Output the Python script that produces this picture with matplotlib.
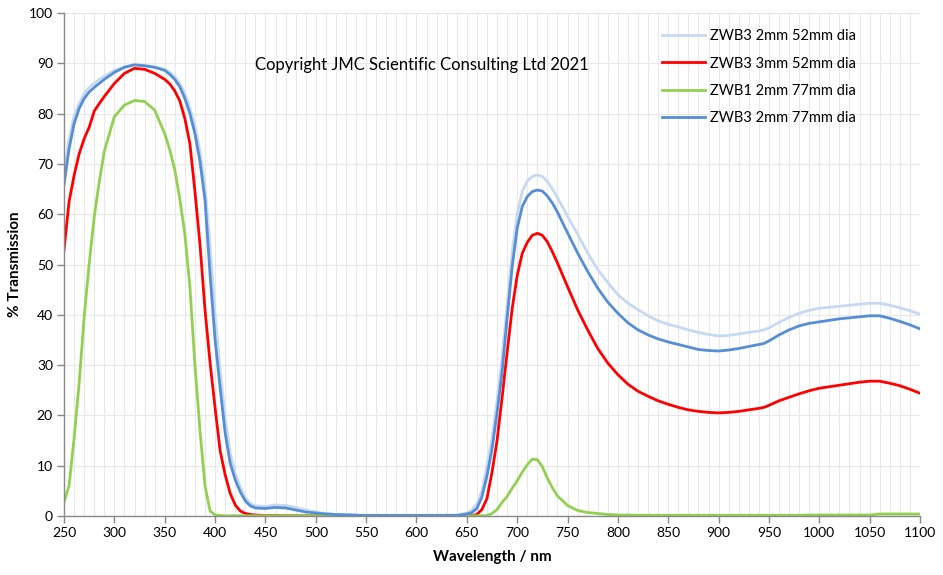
import matplotlib
matplotlib.use("Agg")
import matplotlib.pyplot as plt
from matplotlib.ticker import MultipleLocator

# wavelength grid (nm) the curves were read at
wl = [250, 255, 260, 265, 270, 275, 280, 285, 290, 300,
      310, 320, 330, 340, 350, 355, 360, 365, 370, 375,
      380, 385, 390, 395, 400, 405, 410, 415, 420, 425,
      430, 435, 440, 450, 460, 470, 480, 490, 500, 510,
      520, 550, 600, 640, 650, 655, 660, 665, 670, 675,
      680, 685, 690, 695, 700, 705, 710, 715, 720, 725,
      730, 735, 740, 750, 760, 770, 780, 790, 800, 810,
      820, 830, 840, 850, 860, 870, 880, 890, 900, 910,
      920, 930, 940, 945, 950, 960, 970, 980, 990, 1000,
      1010, 1020, 1030, 1040, 1050, 1060, 1070, 1080, 1090, 1100]

zwb3_2mm_52 = [68, 75, 79.5, 82, 84, 85.2, 86, 86.8, 87.4, 88.6,
               89.3, 89.7, 89.6, 89.3, 88.8, 88.2, 87.3, 86, 84, 81.2,
               77.5, 72.5, 65.5, 54, 40, 29, 19.5, 12.5, 8.5, 5.8,
               3.6, 2.5, 2.0, 1.9, 2.2, 2.1, 1.7, 1.2, 0.8, 0.5,
               0.3, 0.1, 0.1, 0.2, 0.6, 1.2, 2.4, 5, 10, 15.5,
               23, 31.5, 42, 52.5, 60, 64.5, 66.6, 67.5, 67.8, 67.5,
               66.5, 65, 63.3, 59.6, 56, 52.3, 49, 46.4, 44, 42.3,
               41, 39.8, 38.8, 38.1, 37.6, 37, 36.5, 36.1, 35.8, 35.9,
               36.2, 36.5, 36.8, 37, 37.4, 38.5, 39.5, 40.3, 40.9, 41.3,
               41.5, 41.7, 41.9, 42.1, 42.3, 42.3, 41.9, 41.4, 40.8, 40.1]

zwb3_3mm_52 = [52.9, 62.5, 67.7, 72, 75, 77.3, 80.5, 82, 83.4, 86,
               88, 89, 88.8, 88, 86.8, 85.9, 84.5, 82.5, 79, 74,
               64.5, 54, 41, 30.5, 21.5, 13, 8.2, 4.5, 2.2, 1.0,
               0.5, 0.3, 0.2, 0.1, 0.1, 0.05, 0.05, 0.05, 0.05, 0.05,
               0.05, 0.05, 0.05, 0.05, 0.05, 0.1, 0.3, 1.3, 3.5, 8.7,
               15, 23.5, 32.5, 41.2, 47.8, 52.2, 54.4, 55.8, 56.2, 55.8,
               54.5, 52.5, 50.3, 45.6, 41, 37, 33.3, 30.4, 28.1, 26.2,
               24.8, 23.8, 22.9, 22.2, 21.6, 21.1, 20.8, 20.6, 20.5, 20.6,
               20.8, 21.1, 21.4, 21.6, 22, 22.9, 23.6, 24.3, 24.9, 25.4,
               25.7, 26, 26.3, 26.6, 26.8, 26.8, 26.4, 25.9, 25.2, 24.4]

zwb1_2mm_77 = [2.8, 6, 15.5, 26.4, 39.6, 50.2, 59.5, 66.5, 72.5, 79.4,
               81.7, 82.6, 82.4, 80.7, 76, 72.8, 68.8, 63, 56, 45.5,
               30, 17, 6, 1, 0.2, 0.1, 0.05, 0.05, 0.05, 0.05,
               0.05, 0.05, 0.05, 0.05, 0.05, 0.05, 0.05, 0.05, 0.05, 0.05,
               0.05, 0.05, 0.05, 0.05, 0.05, 0.05, 0.05, 0.05, 0.1, 0.5,
               1.3, 2.7, 3.9, 5.5, 7.0, 8.7, 10.2, 11.3, 11.2, 9.8,
               7.5, 5.6, 4, 2.1, 1.1, 0.7, 0.5, 0.3, 0.2, 0.2,
               0.15, 0.15, 0.15, 0.15, 0.15, 0.15, 0.15, 0.15, 0.15, 0.15,
               0.15, 0.15, 0.15, 0.15, 0.15, 0.15, 0.15, 0.15, 0.2, 0.2,
               0.2, 0.2, 0.2, 0.2, 0.2, 0.4, 0.4, 0.4, 0.4, 0.4]

zwb3_2mm_77 = [66, 73, 78, 81, 83, 84.3, 85.2, 86, 86.8, 88.2,
               89.2, 89.7, 89.5, 89.2, 88.6, 87.8, 86.8, 85.3, 83, 80,
               76, 70.5, 62.8, 48, 35, 25.5, 16.5, 10.5, 7.2, 4.8,
               3, 2, 1.6, 1.5, 1.7, 1.6, 1.2, 0.8, 0.6, 0.4,
               0.3, 0.1, 0.1, 0.1, 0.4, 0.7, 1.5, 3.8, 8, 13.3,
               20.5, 28.6, 39.3, 49.5, 57.2, 61.5, 63.5, 64.5, 64.8, 64.6,
               63.6, 62.2, 60.4, 56.3, 52.3, 48.6, 45.3, 42.5, 40.3, 38.4,
               37, 36, 35.2, 34.6, 34.1, 33.6, 33.1, 32.9, 32.8, 33,
               33.3, 33.7, 34.1, 34.3, 34.8, 36, 37, 37.8, 38.3, 38.6,
               38.9, 39.2, 39.4, 39.6, 39.8, 39.8, 39.3, 38.7, 38, 37.2]

labels = ["ZWB3 2mm 52mm dia", "ZWB3 3mm 52mm dia",
          "ZWB1 2mm 77mm dia", "ZWB3 2mm 77mm dia"]
colours = ["#C6D9F1", "#FF0000", "#92D050", "#558ED5"]

plt.rcParams['font.family'] = ['Lato', 'DejaVu Sans']

fig = plt.figure(figsize=(9.43, 5.75), dpi=100)
ax = fig.add_axes([0.0679, 0.1026, 0.9077, 0.8748])

series = [zwb3_2mm_52, zwb3_3mm_52, zwb1_2mm_77, zwb3_2mm_77]
for s, lab, c in zip(series, labels, colours):
    ax.plot(wl, s, color=c, lw=2.0, label=lab, solid_joinstyle='round')

ax.set_xlim(250, 1100)
ax.set_ylim(0, 100)
ax.xaxis.set_major_locator(MultipleLocator(50))
ax.xaxis.set_minor_locator(MultipleLocator(10))
ax.yaxis.set_major_locator(MultipleLocator(10))

ax.grid(True, which='major', axis='y', color='#E8E8E8', lw=0.8)
ax.grid(True, which='both', axis='x', color='#E8E8E8', lw=0.8)
ax.set_axisbelow(True)

for side in ['top', 'right']:
    ax.spines[side].set_visible(False)
for side in ['left', 'bottom']:
    ax.spines[side].set_color('#898989')
    ax.spines[side].set_linewidth(1.0)

ax.tick_params(which='major', direction='out', length=5, width=1,
               color='#898989', labelsize=10, labelcolor='black', pad=3)
ax.tick_params(which='minor', length=0)

ax.set_xlabel('Wavelength / nm', fontsize=11, fontweight='bold', labelpad=8)
ax.set_ylabel('% Transmission', fontsize=11, fontweight='bold', labelpad=5)

ax.text(605, 89.7, 'Copyright JMC Scientific Consulting Ltd 2021',
        fontsize=12, ha='center', va='center')

ax.legend(loc='upper left', bbox_to_anchor=(0.6986, 0.968), frameon=False,
          borderaxespad=0, borderpad=0, fontsize=10.5, handlelength=2.95,
          handletextpad=0.35, labelspacing=0.92)

fig.savefig('out.png', dpi=100)
